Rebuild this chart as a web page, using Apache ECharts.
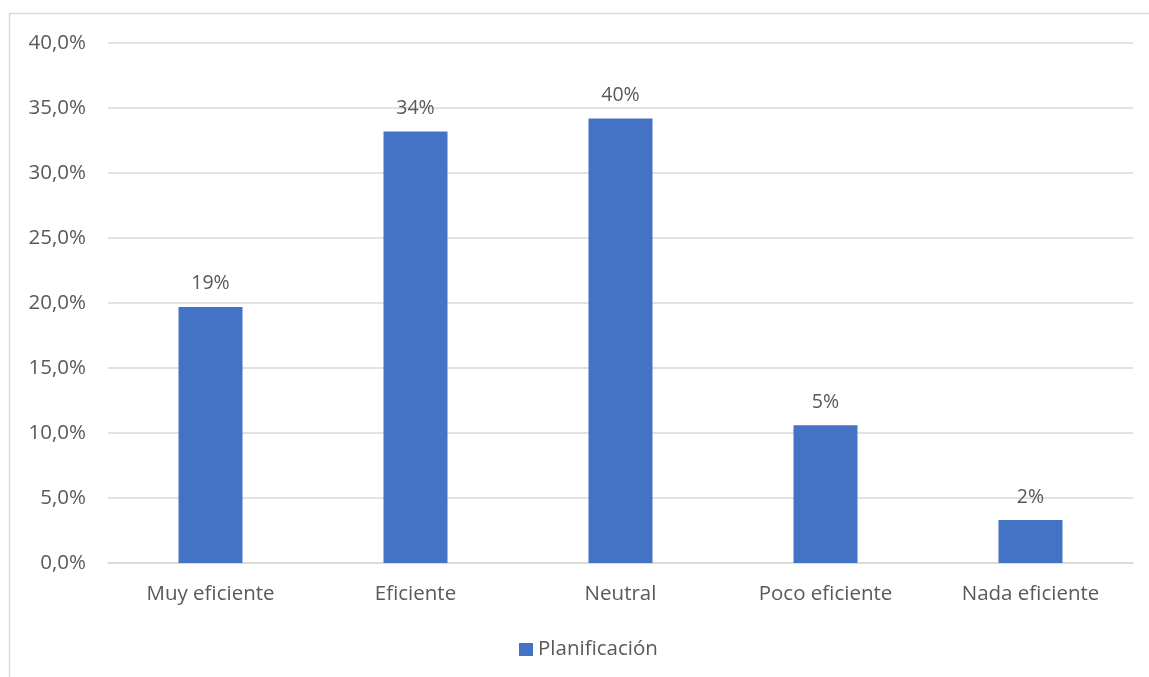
<!DOCTYPE html>
<html>
<head>
<meta charset="utf-8">
<script src="https://cdn.jsdelivr.net/npm/echarts@6/dist/echarts.min.js"></script>
<style>
html,body{margin:0;padding:0;background:#fff;}
#c{width:1149px;height:677px;}
</style>
</head>
<body>
<div id="c"></div>
<script>
const categories = ['Muy eficiente', 'Eficiente', 'Neutral', 'Poco eficiente', 'Nada eficiente'];
const seriesName = 'Planificación';
const values = [19.7, 33.2, 34.2, 10.6, 3.3];
const labelTexts = ['19%', '34%', '40%', '5%', '2%'];
const yTicks = { min: 0, max: 40, interval: 5 };

const chart = echarts.init(document.getElementById('c'), null, { renderer: 'canvas' });
const FONT = 'Open Sans';
const TXT = '#595959';
chart.setOption({
  animation: false,
  backgroundColor: '#fff',
  graphic: [{
    type: 'rect',
    shape: { x: 9.5, y: 13.5, width: 1150, height: 700 },
    style: { fill: 'none', stroke: '#d9d9d9', lineWidth: 1.5 },
    silent: true
  }],
  grid: { left: 108, right: 16, top: 43, bottom: 114 },
  legend: {
    data: [seriesName],
    top: 634,
    left: 514,
    icon: 'rect',
    itemWidth: 14,
    itemHeight: 13,
    itemGap: 7,
    textStyle: { color: TXT, fontFamily: FONT, fontSize: 20.5 }
  },
  xAxis: {
    type: 'category',
    data: categories,
    axisLine: { show: true, lineStyle: { color: '#d9d9d9', width: 1.5 } },
    axisTick: { show: false },
    axisLabel: { color: TXT, fontFamily: FONT, fontSize: 20.5, margin: 21 }
  },
  yAxis: {
    type: 'value',
    min: yTicks.min, max: yTicks.max, interval: yTicks.interval,
    axisLine: { show: false },
    axisTick: { show: false },
    splitLine: { lineStyle: { color: '#d9d9d9', width: 1.5 } },
    axisLabel: {
      color: TXT, fontFamily: FONT, fontSize: 20.5, margin: 22,
      formatter: v => v.toFixed(1).replace('.', ',') + '%'
    }
  },
  series: [{
    name: seriesName,
    type: 'bar',
    data: values,
    barWidth: 64,
    itemStyle: { color: '#4472C4' },
    label: {
      show: true,
      position: 'top',
      distance: 13,
      color: TXT,
      fontFamily: FONT,
      fontSize: 19.5,
      formatter: p => labelTexts[p.dataIndex]
    }
  }]
});
</script>
</body>
</html>
